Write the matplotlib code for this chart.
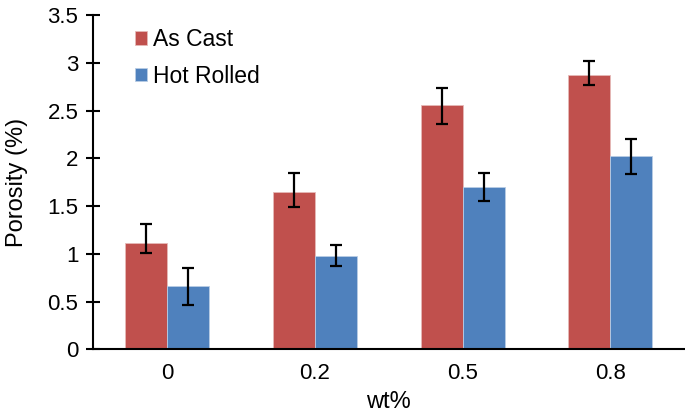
import matplotlib
matplotlib.use("Agg")
import matplotlib.pyplot as plt
import numpy as np

plt.rcParams['font.family'] = ['Liberation Sans', 'DejaVu Sans']

categories = ['0', '0.2', '0.5', '0.8']
as_cast = [1.11, 1.65, 2.56, 2.87]
as_cast_err_lo = [0.10, 0.16, 0.20, 0.10]
as_cast_err_hi = [0.20, 0.20, 0.18, 0.15]
hot_rolled = [0.66, 0.98, 1.70, 2.02]
hot_rolled_err = [0.19, 0.11, 0.15, 0.18]

red = '#C0504D'
blue = '#4F81BD'

fig = plt.figure(figsize=(6.85, 4.16), dpi=100)
ax = fig.add_axes([0.136, 0.160, 0.863, 0.804])

x = np.arange(len(categories))
w = 0.284
err_kw = dict(ecolor='black', elinewidth=1.6, capsize=4, capthick=1.6)
ax.bar(x - w / 2, as_cast, w, color=red, label='As Cast',
       yerr=[as_cast_err_lo, as_cast_err_hi], error_kw=err_kw,
       edgecolor='#E6B9B8', linewidth=0.6)
ax.bar(x + w / 2, hot_rolled, w, color=blue, label='Hot Rolled',
       yerr=hot_rolled_err, error_kw=err_kw,
       edgecolor='#B9CDE5', linewidth=0.6)

ax.set_xlim(-0.5, 3.5)
ax.set_ylim(0, 3.5)
ax.set_yticks(np.arange(0, 3.51, 0.5))
ax.set_yticklabels(['0', '0.5', '1', '1.5', '2', '2.5', '3', '3.5'])
ax.set_xticks(x)
ax.set_xticklabels(categories)

for s in ['top', 'right']:
    ax.spines[s].set_visible(False)
ax.spines['left'].set_linewidth(1.5)
ax.spines['bottom'].set_linewidth(1.5)
ax.tick_params(axis='y', direction='inout', length=9.4, width=1.5, labelsize=16, pad=6)
ax.tick_params(axis='x', length=0, labelsize=16, pad=10)

ax.set_ylabel('Porosity (%)', fontsize=17, labelpad=14)
ax.set_xlabel('wt%', fontsize=17, labelpad=5)

ax.legend(loc='upper left', bbox_to_anchor=(135 / 685, 1 - 28 / 416),
          bbox_transform=fig.transFigure, frameon=False, borderpad=0,
          borderaxespad=0, fontsize=16.5, handlelength=0.52, handleheight=0.52,
          handletextpad=0.26, labelspacing=0.6)

fig.savefig('out.png', dpi=100)
